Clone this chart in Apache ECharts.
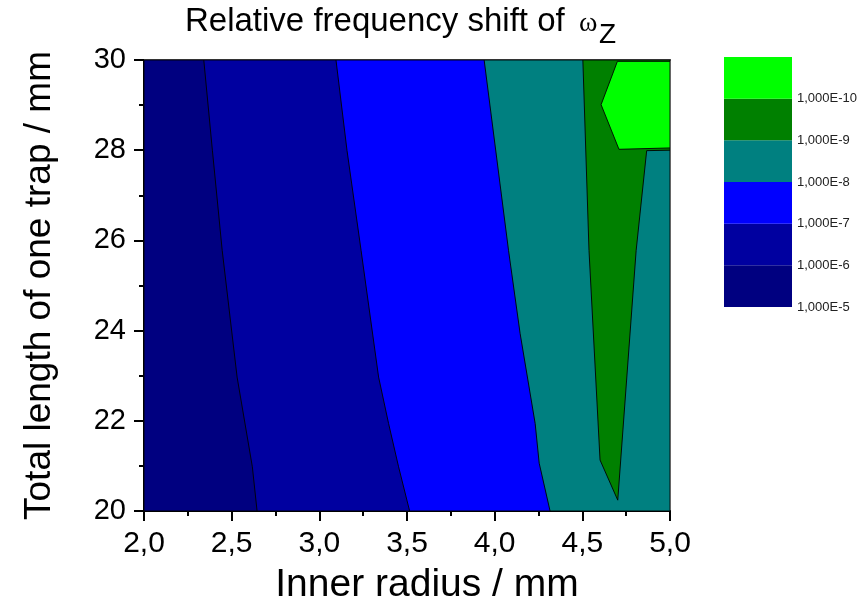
<!DOCTYPE html>
<html>
<head>
<meta charset="utf-8">
<script src="https://cdn.jsdelivr.net/npm/echarts@6/dist/echarts.min.js"></script>
<style>html,body{margin:0;padding:0;background:#fff}#c{width:861px;height:607px}</style>
</head>
<body>
<div id="c"></div>
<script>
// ---- data ----
const levelLabels = ['1,000E-5','1,000E-6','1,000E-7','1,000E-8','1,000E-9','1,000E-10'];
const levelColors = ['#000080','#0000A0','#0000FF','#008080','#008000','#00FF00'];

// full plot rectangle (lowest level, >1E-6)
const baseX = [2, 2, 5, 5];
const baseY = [20, 30, 30, 20];
// contour 1E-6 boundary (top -> bottom)
const b1X = [2.341, 2.39, 2.446, 2.531, 2.618, 2.645];
const b1Y = [30, 28, 25.78, 22.97, 20.98, 20];
// contour 1E-7 boundary
const b2X = [3.095, 3.158, 3.238, 3.338, 3.395, 3.452, 3.515];
const b2Y = [30, 27.99, 25.78, 22.97, 21.94, 20.98, 20];
// contour 1E-8 boundary
const b3X = [3.940, 4.079, 4.145, 4.231, 4.254, 4.316];
const b3Y = [30, 25.78, 23.94, 21.94, 21.06, 20];
// contour 1E-9 closed band (left side down, tip, right side up)
const b4X = [4.503, 4.538, 4.601, 4.702, 4.807, 4.867, 5, 5];
const b4Y = [30, 25.78, 21.13, 20.24, 25.78, 27.99, 28.0, 30];
// contour 1E-10 region (top right)
const b5X = [4.70, 5, 5, 4.709, 4.607];
const b5Y = [29.97, 29.97, 28.05, 28.02, 29.01];

const xTicks = {min: 2, max: 5, step: 0.5};
const yTicks = {min: 20, max: 30, step: 2};

// ---- helpers ----
function closeRight(xs, ys) {
  const pts = xs.map((x, i) => [x, ys[i]]);
  pts.push([5, ys[ys.length - 1]]);
  pts.push([5, ys[0]]);
  return pts;
}
function zip(xs, ys) { return xs.map((x, i) => [x, ys[i]]); }

function polySeries(pts, color) {
  return {
    type: 'custom',
    xAxisIndex: 0, yAxisIndex: 0,
    clip: true,
    silent: true,
    data: pts,
    encode: {x: 0, y: 1},
    renderItem: function (params, api) {
      if (params.dataIndex !== 0) return null;
      const p = pts.map(q => api.coord(q));
      return {
        type: 'polygon',
        shape: {points: p},
        style: {fill: color, stroke: '#000', lineWidth: 0.9}
      };
    }
  };
}

const FONT = '"Liberation Sans", Arial, sans-serif';
const fmt = v => v.toFixed(1).replace('.', ',');

const legendData = levelColors.map((c, i) => [i]);

const option = {
  animation: false,
  backgroundColor: '#fff',
  graphic: [
    {type: 'text', x: 185, y: 22, style: {text: 'Relative frequency shift of', font: '33px ' + FONT, fill: '#000', verticalAlign: 'middle', align: 'left'}},
    {type: 'text', x: 579, y: 24, style: {text: 'ω', font: '28px "Liberation Serif", serif', fill: '#000', verticalAlign: 'middle', align: 'left'}},
    {type: 'text', x: 599, y: 35, style: {text: 'Z', font: '28px ' + FONT, fill: '#000', verticalAlign: 'middle', align: 'left'}}
  ],
  grid: [
    {left: 144, top: 60, width: 526, height: 451, containLabel: false, outerBoundsMode: 'none'},
    {left: 724, top: 57, width: 68, height: 250, containLabel: false, outerBoundsMode: 'none'}
  ],
  xAxis: [
    {
      type: 'value', gridIndex: 0, min: xTicks.min, max: xTicks.max, interval: xTicks.step,
      position: 'bottom',
      name: 'Inner radius / mm', nameLocation: 'middle', nameGap: 55,
      nameTextStyle: {fontSize: 39, fontFamily: FONT, color: '#000', padding: [0, 0, 0, 40]},
      axisLine: {show: true, onZero: false, lineStyle: {color: '#000', width: 2}},
      axisTick: {show: true, length: 10, lineStyle: {color: '#000', width: 2}},
      minorTick: {show: true, splitNumber: 2, length: 5, lineStyle: {color: '#000', width: 2}},
      splitLine: {show: false},
      axisLabel: {fontSize: 30, fontFamily: FONT, color: '#000', margin: 18, formatter: fmt}
    },
    {
      type: 'value', gridIndex: 0, min: xTicks.min, max: xTicks.max, position: 'top',
      axisLine: {show: true, onZero: false, lineStyle: {color: '#333', width: 2}},
      axisTick: {show: false}, axisLabel: {show: false}, splitLine: {show: false}
    },
    {
      type: 'value', gridIndex: 1, min: 0, max: 1, show: false
    }
  ],
  yAxis: [
    {
      type: 'value', gridIndex: 0, min: yTicks.min, max: yTicks.max, interval: yTicks.step,
      position: 'left',
      name: 'Total length of one trap / mm', nameLocation: 'middle', nameGap: 86, nameRotate: 90,
      nameTextStyle: {fontSize: 37, fontFamily: FONT, color: '#000'},
      axisLine: {show: true, onZero: false, lineStyle: {color: '#000', width: 2}},
      axisTick: {show: true, length: 10, lineStyle: {color: '#000', width: 2}},
      minorTick: {show: true, splitNumber: 2, length: 5, lineStyle: {color: '#000', width: 2}},
      splitLine: {show: false},
      axisLabel: {fontSize: 29, fontFamily: FONT, color: '#000', margin: 18}
    },
    {
      type: 'value', gridIndex: 0, min: yTicks.min, max: yTicks.max, position: 'right',
      axisLine: {show: true, onZero: false, lineStyle: {color: '#333', width: 1.5}},
      axisTick: {show: false}, axisLabel: {show: false}, splitLine: {show: false}
    },
    {
      type: 'value', gridIndex: 1, min: 0, max: levelColors.length, interval: 1, position: 'right',
      axisLine: {show: false}, axisTick: {show: false}, splitLine: {show: false},
      axisLabel: {fontSize: 13, fontFamily: FONT, color: '#222', margin: 5,
        formatter: v => (v < levelLabels.length ? levelLabels[v] : '')}
    }
  ],
  series: [
    polySeries(zip(baseX, baseY), levelColors[0]),
    polySeries(closeRight(b1X, b1Y), levelColors[1]),
    polySeries(closeRight(b2X, b2Y), levelColors[2]),
    polySeries(closeRight(b3X, b3Y), levelColors[3]),
    polySeries(zip(b4X, b4Y), levelColors[4]),
    polySeries(zip(b5X, b5Y), levelColors[5]),
    {
      type: 'custom', xAxisIndex: 2, yAxisIndex: 2, silent: true,
      data: legendData,
      encode: {y: 0},
      renderItem: function (params, api) {
        const i = api.value(0);
        const p0 = api.coord([0, i + 1]);
        const p1 = api.coord([1, i]);
        return {type: 'rect', shape: {x: p0[0], y: p0[1], width: p1[0] - p0[0], height: p1[1] - p0[1]},
          style: {fill: levelColors[i]}};
      }
    }
  ]
};

const chart = echarts.init(document.getElementById('c'), null, {renderer: 'canvas'});
chart.setOption(option);
</script>
</body>
</html>
